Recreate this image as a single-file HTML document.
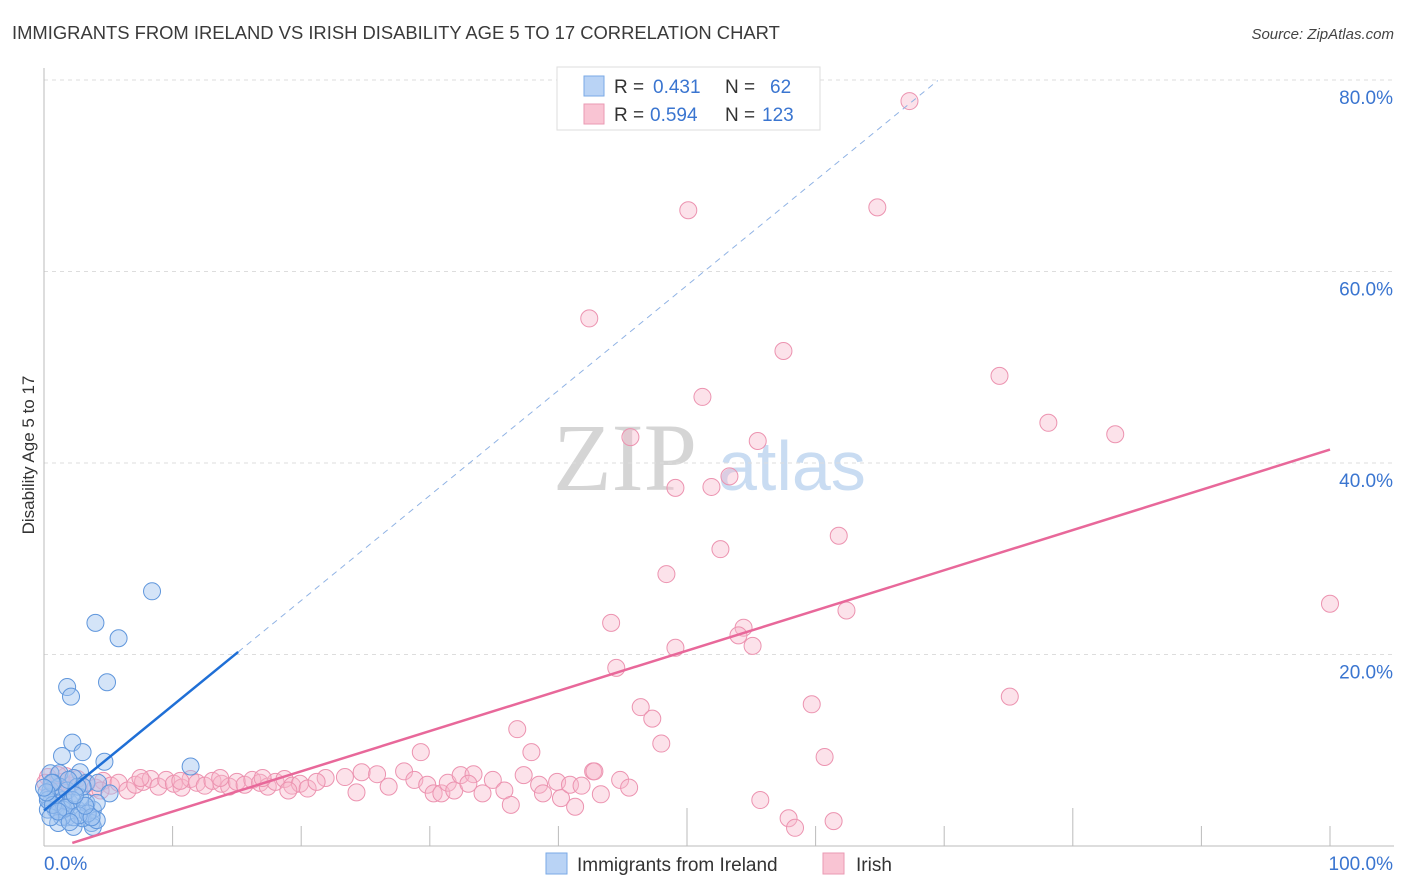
<!DOCTYPE html>
<html><head><meta charset="utf-8">
<style>
body{margin:0;background:#fff;font-family:"Liberation Sans",sans-serif;}
svg{display:block}
</style></head>
<body>
<svg id="chart" width="1406" height="892" xmlns="http://www.w3.org/2000/svg">
<text x="12" y="39" font-size="18.4" fill="#3a3a3a">IMMIGRANTS FROM IRELAND VS IRISH DISABILITY AGE 5 TO 17 CORRELATION CHART</text>
<text x="1394" y="39" font-size="15" fill="#444" font-style="italic" text-anchor="end">Source: ZipAtlas.com</text>
<g>
<text x="553" y="490" font-family="Liberation Serif,serif" font-size="96" fill="#d5d5d5">ZIP</text>
<text x="718" y="490" font-size="70" fill="#c9dcf2">atlas</text>
</g>
<g id="grid"></g>
<g id="axes"></g>
<g id="pink"></g>
<g id="blue"></g>
<g id="lines"></g>
<text transform="translate(34,455) rotate(-90)" font-size="17" fill="#333" text-anchor="middle">Disability Age 5 to 17</text>
<g>
<rect x="557" y="67" width="263" height="63" fill="#fff" stroke="#ddd"/>
<rect x="584" y="76" width="20" height="20" fill="#b9d3f5" stroke="#7aaae6"/>
<rect x="584" y="104" width="20" height="20" fill="#f9c4d3" stroke="#ea9ab3"/>
<text y="93" font-size="19" fill="#333"><tspan x="614">R =</tspan><tspan x="653" fill="#3a75d0">0.431</tspan><tspan x="725">N =</tspan><tspan x="770" fill="#3a75d0">62</tspan></text>
<text y="121" font-size="19" fill="#333"><tspan x="614">R =</tspan><tspan x="650" fill="#3a75d0">0.594</tspan><tspan x="725">N =</tspan><tspan x="762" fill="#3a75d0">123</tspan></text>
</g>
<g>
<rect x="546" y="853" width="21" height="21" fill="#b9d3f5" stroke="#7aaae6"/>
<text x="577" y="871" font-size="19" fill="#333">Immigrants from Ireland</text>
<rect x="823" y="853" width="21" height="21" fill="#f9c4d3" stroke="#ea9ab3"/>
<text x="856" y="871" font-size="19" fill="#333">Irish</text>
</g>
</svg>
<script>
const yTicks=[20,40,60,80];
const yTickLabels=["20.0%","40.0%","60.0%","80.0%"];
const xTickVals=[10,20,30,40,50,60,70,80,90,100];
const blueX=[8.4,4.0,5.8,1.8,2.1,4.9,2.2,1.4,3.0,4.7,11.4,0.5,1.2,2.8,2.3,3.3,4.2,5.1,0.5,1.0,1.5,0.5,0.9,2.0,2.6,1.8,3.8,3.7,2.3,3.8,3.0,1.2,0.3,1.8,2.8,3.3,4.1,2.3,1.5,0.3,3.0,0.7,2.6,1.9,1.4,4.1,1.1,0.5,3.4,0.6,2.2,0.3,0.7,0.2,1.7,2.7,3.7,1.1,2.0,3.2,2.4,0];
const blueY=[26.6,23.3,21.7,16.6,15.6,17.1,10.8,9.4,9.8,8.8,8.3,7.6,7.6,7.7,7.1,6.6,6.6,5.5,5.8,5.1,4.8,4.5,3.8,4.5,3.8,3.0,3.8,2.4,2.0,2.0,2.9,6.2,5.1,5.8,5.1,4.5,4.5,3.0,3.8,3.8,6.2,6.6,6.2,6.9,3.0,2.7,2.4,3.0,3.4,6.6,4.8,4.8,4.3,5.6,4.0,3.2,3.0,3.6,2.5,4.2,5.3,6.1];
const pinkX=[67.3,50.1,64.8,42.4,57.5,74.3,51.2,78.1,83.3,45.6,55.5,49.1,51.9,53.3,52.6,61.8,48.4,100,62.4,44.1,54.4,54.0,55.1,49.1,44.5,75.1,59.7,46.4,47.3,48.0,29.3,60.7,55.7,57.9,58.4,61.4,42.7,
21.9,23.4,24.3,24.7,25.9,26.8,28.0,28.8,29.8,30.3,30.9,31.4,31.9,32.4,33.4,33.0,34.1,34.9,35.8,36.3,36.8,37.3,37.9,38.5,38.8,39.9,40.2,40.9,41.3,41.8,42.8,43.3,44.8,45.5,
0.3,0.9,1.4,2.0,2.6,3.3,4.0,4.6,5.2,5.8,6.5,7.1,7.7,8.3,8.9,9.5,10.1,10.7,11.4,11.9,12.5,13.1,13.8,14.4,15.0,15.6,16.2,16.8,17.4,18.0,18.7,19.3,19.9,20.5,21.2,
1.7,4.4,7.5,10.6,13.7,17.0,19.0,0.1,1.1];
const pinkY=[77.8,66.4,66.7,55.1,51.7,49.1,46.9,44.2,43.0,42.7,42.3,37.4,37.5,38.6,31.0,32.4,28.4,25.3,24.6,23.3,22.8,22.0,20.9,20.7,18.6,15.6,14.8,14.5,13.3,10.7,9.8,9.3,4.8,2.9,1.9,2.6,7.8,
7.1,7.2,5.6,7.7,7.5,6.2,7.8,6.9,6.4,5.5,5.5,6.6,5.8,7.4,7.5,6.5,5.5,6.9,5.8,4.3,12.2,7.4,9.8,6.4,5.5,6.7,5.0,6.4,4.1,6.3,7.8,5.4,6.9,6.1,
7.2,5.8,6.7,6.3,7.0,6.5,6.1,6.8,6.3,6.6,5.8,6.4,6.7,7.0,6.2,6.9,6.5,6.1,7.0,6.6,6.3,6.8,6.5,6.2,6.7,6.4,6.9,6.6,6.2,6.7,7.0,6.3,6.5,6.0,6.7,
7.3,5.8,7.1,6.8,7.1,7.1,5.8,6.6,7.4];
const blueFit={slope:1.097,intercept:3.7,solidEnd:15.1,dashEnd:69.5};
const pinkFit={slope:0.42,intercept:-0.6,start:2.2,end:100};

const X0=44,X1=1330,Y0=846,Y80=80;
const sx=v=>X0+(X1-X0)*v/100;
const sy=v=>Y0-(Y0-Y80)*v/80;
const NS="http://www.w3.org/2000/svg";
function mk(tag,parent,attrs){const e=document.createElementNS(NS,tag);for(const k in attrs)e.setAttribute(k,attrs[k]);parent.appendChild(e);return e;}
const grid=document.getElementById('grid'),axes=document.getElementById('axes');
yTicks.forEach((t,i)=>{
 const l=mk('line',grid,{x1:X0,x2:1394,y1:sy(t),y2:sy(t),stroke:'#ddd','stroke-dasharray':'4,4'});
 
 
 const tx=mk('text',axes,{x:1393,y:sy(t)+24,'font-size':19,fill:'#3a75d0','text-anchor':'end'});
 tx.textContent=yTickLabels[i];
 
 
});
let a=mk('line',axes,{x1:X0,x2:X0,y1:68,y2:Y0,stroke:'#bbb'});


a=mk('line',axes,{x1:X0,x2:1394,y1:Y0,y2:Y0,stroke:'#bbb'});


xTickVals.forEach(t=>{
 const tall=(t===50||t===80);
 const l=mk('line',axes,{x1:sx(t),x2:sx(t),y1:tall?808:826,y2:Y0,stroke:'#bbb'});
 
 
});
let t0=mk('text',axes,{x:44,y:870,'font-size':19,fill:'#3a75d0'});t0.textContent='0.0%';


let t1=mk('text',axes,{x:1393,y:870,'font-size':19,fill:'#3a75d0','text-anchor':'end'});t1.textContent='100.0%';



const pg=document.getElementById('pink');
pinkX.forEach((x,i)=>{
 const c=mk('circle',pg,{cx:sx(x),cy:sy(pinkY[i]),r:8.5,fill:'rgba(248,182,202,0.4)',stroke:'#ec93b0','stroke-width':1});
 
 
});
const bg=document.getElementById('blue');
blueX.forEach((x,i)=>{
 const c=mk('circle',bg,{cx:sx(x),cy:sy(blueY[i]),r:8.5,fill:'rgba(160,196,240,0.45)',stroke:'#5f96dc','stroke-width':1});
 
 
});
const lg=document.getElementById('lines');
const bf=x=>blueFit.slope*x+blueFit.intercept, pf=x=>pinkFit.slope*x+pinkFit.intercept;
let ln=mk('line',lg,{x1:sx(0),y1:sy(bf(0)),x2:sx(blueFit.solidEnd),y2:sy(bf(blueFit.solidEnd)),stroke:'#1f6fd6','stroke-width':2.5});


ln=mk('line',lg,{x1:sx(blueFit.solidEnd),y1:sy(bf(blueFit.solidEnd)),x2:sx(blueFit.dashEnd),y2:sy(bf(blueFit.dashEnd)),stroke:'#8fb2e4','stroke-width':1,'stroke-dasharray':'6,5'});


ln=mk('line',lg,{x1:sx(pinkFit.start),y1:sy(pf(pinkFit.start)),x2:sx(pinkFit.end),y2:sy(pf(pinkFit.end)),stroke:'#e8689a','stroke-width':2.5});


</script>
</body></html>
